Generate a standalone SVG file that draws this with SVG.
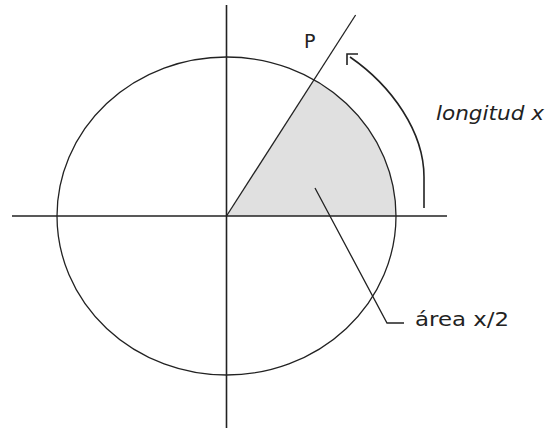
<svg xmlns="http://www.w3.org/2000/svg" width="550" height="433" viewBox="0 0 550 433">
<style>
.ln{fill:none;stroke:#222;stroke-width:1.6}
.thin{fill:none;stroke:#222;stroke-width:1.3}
.t{font-family:"DejaVu Sans","Verdana",sans-serif;fill:#222}
</style>
<rect width="550" height="433" fill="#fff"/>
<g id="sector">
<path d="M226.5,216 L314,79.8 A169.5,159 0 0,1 396,216 Z" fill="#e0e0e0" stroke="none"/>
</g>
<g id="circle">
<ellipse cx="226.5" cy="216" rx="169.5" ry="159" class="thin"/>
</g>
<g id="axes">
<line x1="226.5" y1="5" x2="226.5" y2="428" class="ln"/>
<line x1="12" y1="216" x2="447" y2="216" class="ln"/>
</g>
<g id="connectors">
<line x1="226.5" y1="216" x2="355.6" y2="15" class="thin"/>
<path d="M424,208 L424,177 C424,132 392,86 350,57" class="ln"/>
<polyline points="358,54 347,54 347,65" class="ln"/>
<polyline points="315,188 387,323 404,323" class="thin"/>
</g>
<g id="label-P">
<text x="304" y="48" font-size="19" class="t">P</text>
</g>
<g id="label-longitud">
<text x="436" y="120" font-size="20" font-style="italic" textLength="108" lengthAdjust="spacingAndGlyphs" class="t">longitud x</text>
</g>
<g id="label-area">
<text x="415" y="326" font-size="19" textLength="94" lengthAdjust="spacingAndGlyphs" class="t">área x/2</text>
</g>
</svg>
